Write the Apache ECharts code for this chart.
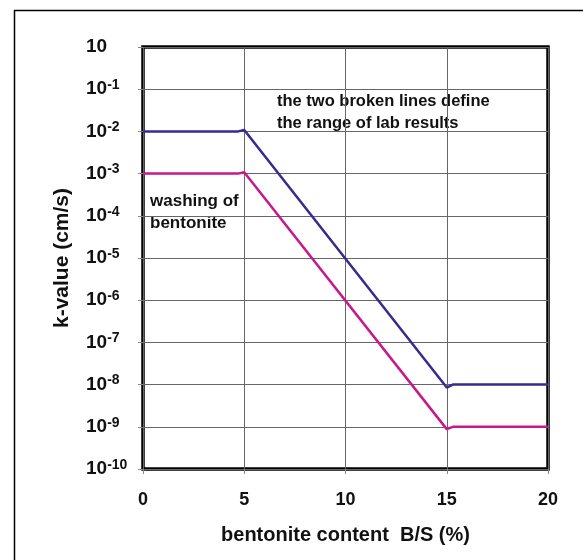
<!DOCTYPE html>
<html>
<head>
<meta charset="utf-8">
<script src="https://cdn.jsdelivr.net/npm/echarts@6/dist/echarts.min.js"></script>
<style>html,body{margin:0;padding:0;background:#fff;}#c{width:583px;height:560px;}</style>
</head>
<body>
<div id="c"></div>
<script>
// Data
var xTicks = [0, 5, 10, 15, 20];
var upperLine = [[0, 1e-2], [4.7, 1e-2], [5, 1.08e-2], [15, 0.85e-8], [15.3, 1e-8], [20, 1e-8]];
var lowerLine = [[0, 1e-3], [4.7, 1e-3], [5, 1.08e-3], [15, 0.88e-9], [15.3, 1e-9], [20, 1e-9]];
var xName = 'bentonite content  B/S (%)';
var yName = 'k-value (cm/s)';
var noteTop = ['the two broken lines define', 'the range of lab results'];
var noteLeft = ['washing of', 'bentonite'];

var FONT = '"Liberation Sans", Arial, sans-serif';
var chart = echarts.init(document.getElementById('c'), null, {renderer: 'canvas'});
chart.setOption({
  backgroundColor: '#fff',
  animation: false,
  grid: {left: 143, right: 35, top: 47, bottom: 91, show: true, borderColor: '#000', borderWidth: 3.5, backgroundColor: 'transparent'},
  xAxis: {
    type: 'value', min: 0, max: 20, interval: 5,
    name: xName, nameLocation: 'middle', nameGap: 56,
    nameTextStyle: {fontFamily: FONT, fontWeight: 'bold', fontSize: 20, color: '#111'},
    axisLine: {show: false},
    axisTick: {show: true, length: 5, lineStyle: {color: '#888'}},
    axisLabel: {margin: 22, fontFamily: FONT, fontWeight: 'bold', fontSize: 18, color: '#111'},
    splitLine: {show: true, lineStyle: {color: '#666', width: 1}}
  },
  yAxis: {
    type: 'log', logBase: 10, min: 1e-10, max: 1, interval: 1,
    name: yName, nameLocation: 'middle', nameGap: 70,
    nameTextStyle: {fontFamily: FONT, fontWeight: 'bold', fontSize: 21, color: '#111'},
    axisLine: {show: false},
    axisTick: {show: true, length: 5, lineStyle: {color: '#888'}},
    axisLabel: {
      margin: 57, align: 'left',
      formatter: function (v) {
        var e = Math.round(Math.log(v) / Math.LN10);
        if (e === 0) return '{b|10}';
        return '{b|10}{s|' + e + '}';
      },
      rich: {
        b: {fontFamily: FONT, fontWeight: 'bold', fontSize: 19, color: '#111'},
        s: {fontFamily: FONT, fontWeight: 'bold', fontSize: 14, color: '#111', padding: [0, 0, 8, 0]}
      }
    },
    splitLine: {show: true, lineStyle: {color: '#666', width: 1}}
  },
  series: [
    {type: 'line', data: upperLine, symbol: 'none', lineStyle: {color: '#3a2a8c', width: 2.5}, z: 5},
    {type: 'line', data: lowerLine, symbol: 'none', lineStyle: {color: '#c8198c', width: 2.5}, z: 5}
  ],
  graphic: [
    {type: 'rect', left: 12, top: 8, shape: {width: 700, height: 700}, style: {fill: 'none', stroke: '#000', lineWidth: 1.5}, z: -10},
    {type: 'text', left: 277, top: 90, style: {text: noteTop.join('\n'), fontFamily: FONT, fontWeight: 'bold', fontSize: 16.5, lineHeight: 22, fill: '#111'}},
    {type: 'text', left: 150, top: 190, style: {text: noteLeft.join('\n'), fontFamily: FONT, fontWeight: 'bold', fontSize: 17, lineHeight: 22, fill: '#111'}}
  ]
});
</script>
</body>
</html>
